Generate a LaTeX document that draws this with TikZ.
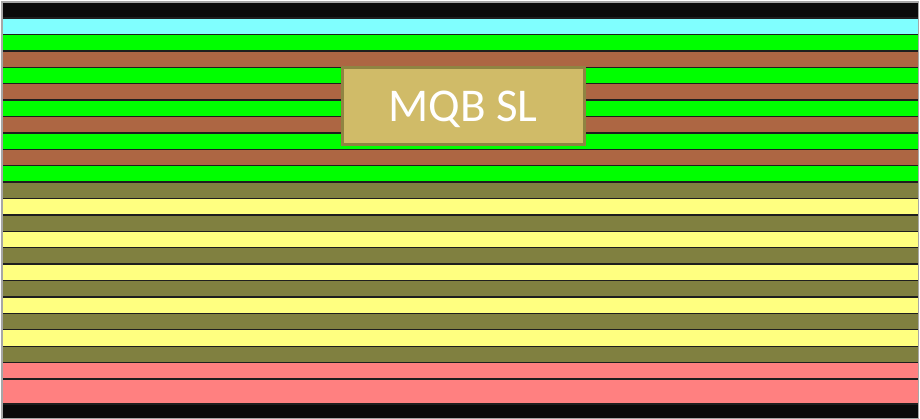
\documentclass[tikz,border=0pt]{standalone}
\usepackage{fontspec}
\setmainfont{Carlito}
\definecolor{lblack}{HTML}{0A0A0A}
\definecolor{lcyan}{HTML}{80FFFF}
\definecolor{lgreen}{HTML}{00FF00}
\definecolor{lbrown}{HTML}{AD6643}
\definecolor{lolive}{HTML}{808040}
\definecolor{lyellow}{HTML}{FFFF80}
\definecolor{lpink}{HTML}{FF8080}
\definecolor{boxfill}{HTML}{D0BB68}
\definecolor{boxline}{HTML}{8F8442}
\definecolor{edge}{HTML}{1E1E1E}
\begin{document}
\begin{tikzpicture}[x=1pt,y=-1pt,
  layer/.style={draw=edge, line width=1.4pt},
  label/.style={draw=boxline, fill=boxfill, line width=3pt, text=white, font=\fontsize{47}{50}\selectfont, minimum width=242pt, minimum height=77pt, inner sep=0pt, text depth=0pt}]
\useasboundingbox (0,0) rectangle (920,419);
\fill[white] (0,0) rectangle (920,419);
\fill[lblack] (2,2) rectangle (918.5,419);
\def\h{16.41}
\foreach \c [count=\i from 0] in {lcyan,lgreen,lbrown,lgreen,lbrown,lgreen,lbrown,lgreen,lbrown,lgreen,lolive,lyellow,lolive,lyellow,lolive,lyellow,lolive,lyellow,lolive,lyellow,lolive,lpink}{
  \path[layer, fill=\c] (2,{18+\i*\h}) rectangle (918.5,{18+(\i+1)*\h});
}
\path[layer, fill=lpink] (2,379) rectangle (918.5,404);
\draw[gray!70, line width=1.2pt] (2,2) rectangle (918.5,419);
\node[label] (mqb) at (463,106.2) {MQB SL};
\end{tikzpicture}
\end{document}
